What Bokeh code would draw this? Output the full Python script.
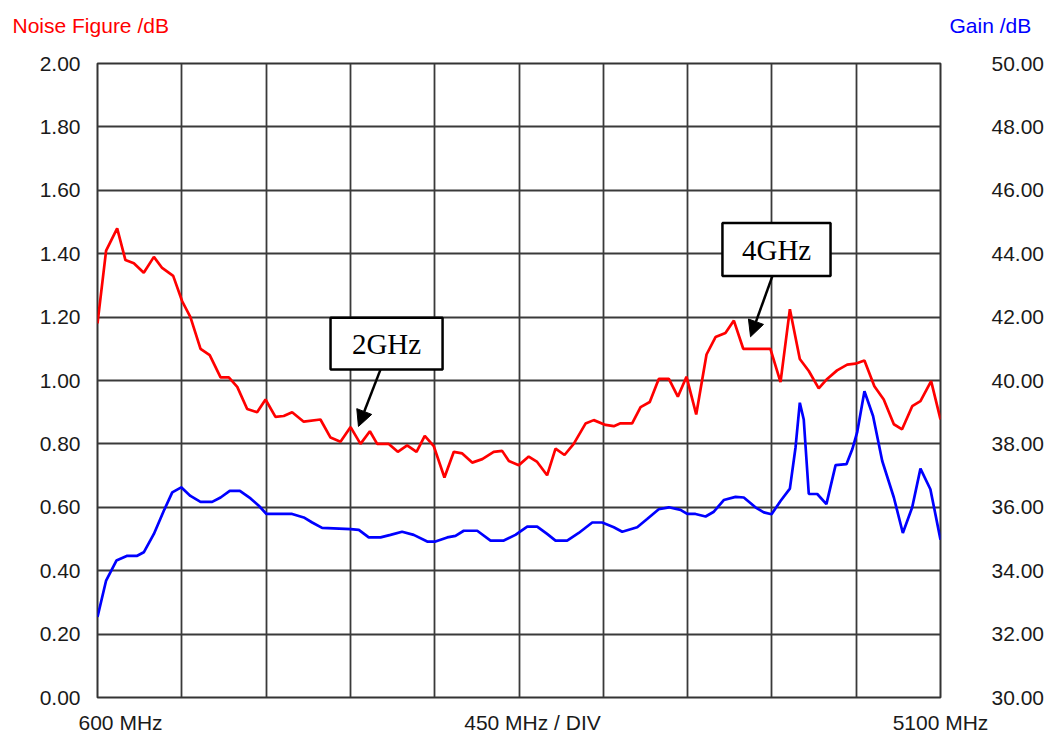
from bokeh.plotting import figure
from bokeh.models import (Range1d, LinearAxis, FixedTicker, NumeralTickFormatter,
                          Label, BoxAnnotation, Arrow, NormalHead)
from bokeh.embed import file_html
from bokeh.resources import INLINE

# ---- data (MHz, dB) ----
nf_freq = [600, 646, 705, 749, 794, 847, 901, 945, 1004, 1052, 1096, 1150, 1199, 1257,
           1301, 1346, 1399, 1452, 1497, 1550, 1594, 1639, 1701, 1790, 1844, 1897, 1951,
           2004, 2054, 2093, 2155, 2203, 2253, 2303, 2347, 2395, 2452, 2502, 2547, 2600,
           2654, 2715, 2760, 2796, 2849, 2902, 2947, 3000, 3045, 3093, 3142, 3205, 3249,
           3312, 3356, 3392, 3454, 3499, 3548, 3596, 3650, 3698, 3744, 3796, 3851, 3899,
           3952, 3997, 4047, 4192, 4246, 4296, 4349, 4397, 4450, 4495, 4548, 4602, 4646,
           4694, 4747, 4797, 4851, 4895, 4949, 4993, 5050, 5100]
nf_db = [1.18, 1.41, 1.48, 1.38, 1.37, 1.34, 1.39, 1.355, 1.33, 1.25, 1.20, 1.10, 1.08, 1.01,
         1.01, 0.98, 0.91, 0.90, 0.94, 0.885, 0.888, 0.90, 0.87, 0.877, 0.82, 0.807, 0.853,
         0.80, 0.84, 0.80, 0.80, 0.775, 0.795, 0.775, 0.825, 0.793, 0.694, 0.775, 0.77, 0.741,
         0.752, 0.775, 0.778, 0.746, 0.733, 0.76, 0.743, 0.701, 0.785, 0.765, 0.80, 0.864, 0.875,
         0.86, 0.856, 0.865, 0.865, 0.916, 0.932, 1.005, 1.005, 0.949, 1.012, 0.893, 1.082, 1.137,
         1.15, 1.189, 1.10, 1.10, 0.995, 1.225, 1.068, 1.03, 0.975, 1.005, 1.032, 1.05, 1.053,
         1.063, 0.982, 0.94, 0.862, 0.846, 0.919, 0.935, 0.998, 0.877]

gain_freq = [600, 646, 701, 759, 812, 847, 901, 954, 999, 1047, 1096, 1150, 1212, 1257,
             1306, 1360, 1417, 1461, 1502, 1639, 1701, 1746, 1799, 1951, 1995, 2048, 2111,
             2164, 2226, 2288, 2360, 2404, 2467, 2511, 2555, 2627, 2698, 2769, 2831, 2894,
             2947, 3000, 3045, 3107, 3169, 3241, 3294, 3356, 3401, 3481, 3534, 3596, 3650,
             3712, 3748, 3792, 3846, 3890, 3943, 4006, 4050, 4112, 4157, 4198, 4246, 4296,
             4326, 4349, 4370, 4397, 4442, 4491, 4540, 4598, 4629, 4655, 4694, 4740, 4789,
             4851, 4899, 4949, 4993, 5046, 5100]
gain_db = [32.54, 33.69, 34.32, 34.47, 34.47, 34.58, 35.16, 35.89, 36.47, 36.63, 36.36, 36.17,
           36.17, 36.31, 36.52, 36.52, 36.28, 36.05, 35.79, 35.79, 35.68, 35.52, 35.35, 35.31,
           35.29, 35.05, 35.05, 35.13, 35.23, 35.13, 34.92, 34.92, 35.05, 35.10, 35.26, 35.26,
           34.95, 34.95, 35.13, 35.39, 35.39, 35.16, 34.95, 34.95, 35.19, 35.52, 35.52, 35.37,
           35.23, 35.37, 35.63, 35.94, 36.0, 35.92, 35.79, 35.79, 35.71, 35.86, 36.23, 36.33,
           36.31, 36.0, 35.84, 35.78, 36.2, 36.59, 37.88, 39.30, 38.77, 36.42, 36.42, 36.10,
           37.33, 37.36, 37.83, 38.36, 39.66, 38.88, 37.46, 36.31, 35.19, 36.0, 37.22, 36.57,
           34.98]

nf_ticks = [0.0, 0.2, 0.4, 0.6, 0.8, 1.0, 1.2, 1.4, 1.6, 1.8, 2.0]
gain_ticks = [30, 32, 34, 36, 38, 40, 42, 44, 46, 48, 50]
freq_grid = [600, 1050, 1500, 1950, 2400, 2850, 3300, 3750, 4200, 4650, 5100]
freq_label_pos = [723, 2922, 5100]
freq_label_text = ["600 MHz", "450 MHz / DIV", "5100 MHz"]

FONT = "Liberation Sans"

p = figure(width=1048, height=736, output_backend="svg", toolbar_location=None,
           x_range=Range1d(600, 5100), y_range=Range1d(0, 2),
           min_border_left=97, min_border_right=108, min_border_top=63, min_border_bottom=37)
p.extra_y_ranges = {"gain": Range1d(30, 50)}

p.outline_line_color = "#333333"
p.outline_line_width = 2
p.background_fill_color = "white"
p.border_fill_color = "white"

p.xgrid.ticker = FixedTicker(ticks=freq_grid)
p.ygrid.ticker = FixedTicker(ticks=nf_ticks)
for g in (p.xgrid, p.ygrid):
    g.grid_line_color = "#3a3a3a"
    g.grid_line_width = 1.8
    g.grid_line_alpha = 1.0


def style_axis(a, standoff):
    a.axis_line_color = None
    a.major_tick_line_color = None
    a.minor_tick_line_color = None
    a.major_tick_out = 0
    a.major_tick_in = 0
    a.minor_tick_out = 0
    a.minor_tick_in = 0
    a.major_label_standoff = standoff
    a.major_label_text_font = FONT
    a.major_label_text_font_size = "21px"
    a.major_label_text_color = "#1a1a1a"


xa = p.xaxis[0]
xa.ticker = FixedTicker(ticks=freq_label_pos)
xa.major_label_overrides = {k: v for k, v in zip(freq_label_pos, freq_label_text)}
style_axis(xa, 13)

ax = p.yaxis[0]
ax.ticker = FixedTicker(ticks=nf_ticks)
ax.formatter = NumeralTickFormatter(format="0.00")
style_axis(ax, 17)

rax = LinearAxis(y_range_name="gain", ticker=FixedTicker(ticks=gain_ticks),
                 formatter=NumeralTickFormatter(format="0.00"))
style_axis(rax, 51)
rax.major_label_text_align = "left"
p.add_layout(rax, "right")

p.line(gain_freq, gain_db, y_range_name="gain", line_color="#0000ff", line_width=2.7)
p.line(nf_freq, nf_db, line_color="#ff0000", line_width=2.7)

# axis titles (placed in the top side panel so they are not clipped to the frame)
p.add_layout(Label(x=600, y=2.0, x_offset=-85, y_offset=38, text="Noise Figure /dB",
                   text_font=FONT, text_font_size="21px", text_color="#ff0000",
                   text_baseline="middle", text_align="left"), "above")
p.add_layout(Label(x=5100, y=2.0, x_offset=9, y_offset=38, text="Gain /dB",
                   text_font=FONT, text_font_size="21px", text_color="#0000ff",
                   text_baseline="middle", text_align="left"), "above")

# annotation boxes
for (l, r, b, t, cx, cy, txt) in [(1844, 2442, 1.035, 1.198, 2143, 1.116, "2GHz"),
                                  (3936, 4513, 1.330, 1.497, 4225, 1.413, "4GHz")]:
    p.add_layout(BoxAnnotation(left=l, right=r, bottom=b, top=t, fill_color="white",
                               fill_alpha=1.0, line_color="black", line_alpha=1.0,
                               line_width=2.5))
    p.add_layout(Label(x=cx, y=cy, text=txt, text_font="Liberation Serif",
                       text_font_size="29px", text_color="black",
                       text_align="center", text_baseline="middle"))

for (x0, y0, x1, y1) in [(2111, 1.035, 1993, 0.855), (4203, 1.330, 4086, 1.138)]:
    p.add_layout(Arrow(x_start=x0, y_start=y0, x_end=x1, y_end=y1, line_width=2.5,
                       line_color="black",
                       end=NormalHead(size=16, fill_color="black", line_color="black")))

open("out.html", "w").write(file_html(p, INLINE))
